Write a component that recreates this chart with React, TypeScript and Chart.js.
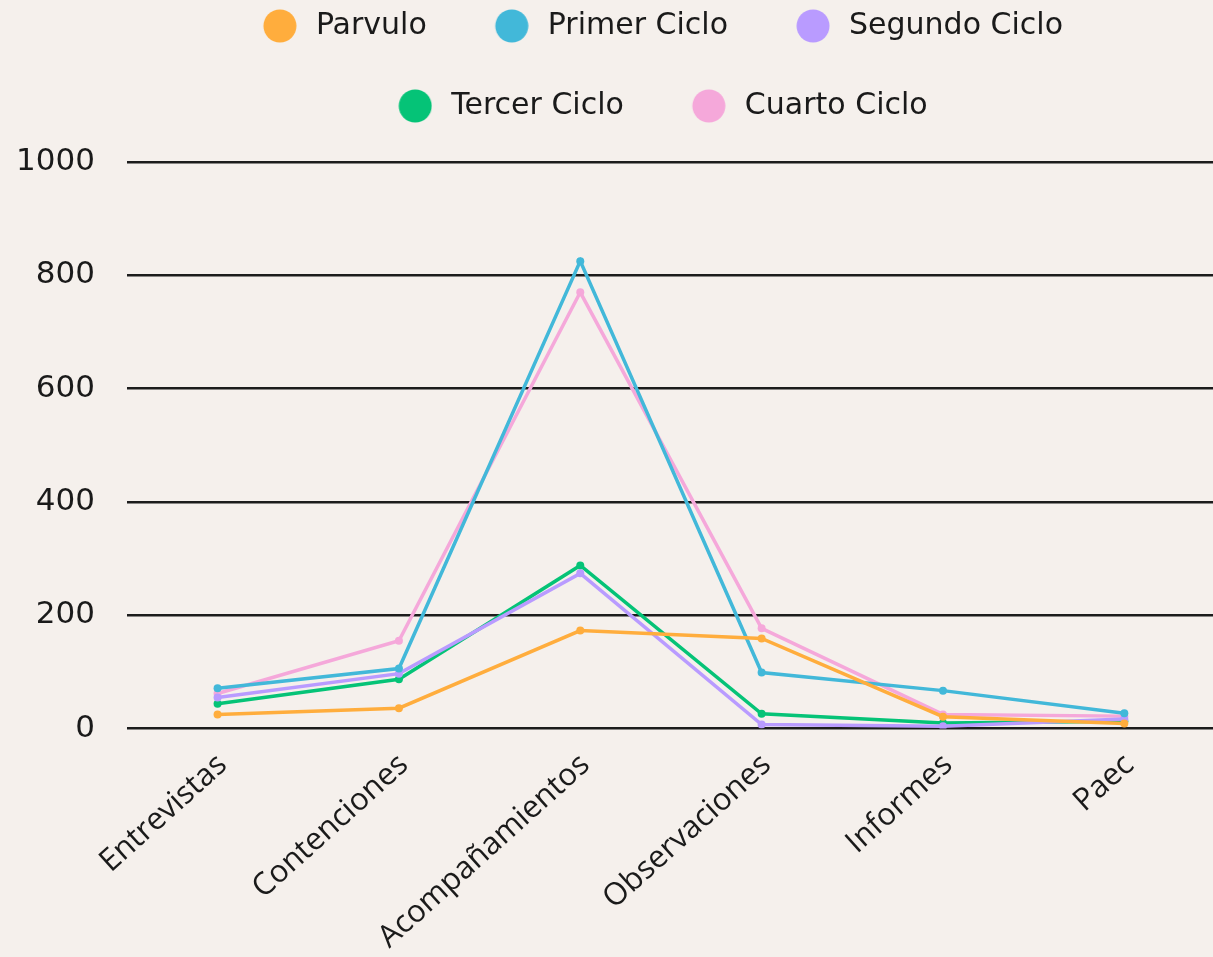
import React, { useEffect, useRef } from "react";
import { Chart, registerables } from "chart.js";

Chart.register(...registerables);

const categories = ["Entrevistas", "Contenciones", "Acompañamientos", "Observaciones", "Informes", "Paec"];
const parvulo = [25, 36, 173, 159, 21, 9];
const primerCiclo = [71, 106, 825, 99, 67, 27];
const segundoCiclo = [55, 97, 274, 7, 4, 17];
const tercerCiclo = [44, 87, 288, 26, 10, 13];
const cuartoCiclo = [62, 155, 770, 177, 25, 22];
const yTicks = [0, 200, 400, 600, 800, 1000];

const seriesNames = ["Parvulo", "Primer Ciclo", "Segundo Ciclo", "Tercer Ciclo", "Cuarto Ciclo"];
const seriesData = [parvulo, primerCiclo, segundoCiclo, tercerCiclo, cuartoCiclo];
const seriesColors = ["#ffad3d", "#42b8d9", "#b99bff", "#05c377", "#f5a8da"];

function makeIcon(color: string) {
  const c = document.createElement("canvas");
  c.width = 48;
  c.height = 34;
  const ctx = c.getContext("2d")!;
  ctx.fillStyle = color;
  ctx.beginPath();
  ctx.arc(31, 17, 16.5, 0, Math.PI * 2);
  ctx.fill();
  return c;
}

const legendSpacing = {
  id: "legendSpacing",
  beforeLayout(chart: any) {
    const lg = chart.legend;
    if (lg && !lg._patchedFit) {
      const orig = lg.fit;
      lg.fit = function () {
        orig.call(this);
        this.height += 31;
      };
      lg._patchedFit = true;
    }
  },
  afterLayout(chart: any) {
    const lg = chart.legend;
    if (lg) {
      lg.left -= 17;
      lg.right -= 17;
    }
  },
};

export default function App() {
  const ref = useRef<HTMLCanvasElement | null>(null);
  useEffect(() => {
    document.body.style.margin = "0";
    document.body.style.background = "#f5f0ec";
    document.body.style.overflow = "hidden";
    if (!ref.current) return;
    const icons = seriesColors.map(makeIcon);
    const chart = new Chart(ref.current, {
      type: "line",
      data: {
        labels: categories,
        datasets: seriesNames.map((name, i) => ({
          label: name,
          data: seriesData[i],
          borderColor: seriesColors[i],
          backgroundColor: seriesColors[i],
          borderWidth: 3.5,
          pointRadius: 4,
          pointBorderWidth: 0,
          tension: 0,
        })),
      },
      plugins: [legendSpacing],
      options: {
        animation: false,
        responsive: true,
        maintainAspectRatio: false,
        layout: { padding: { left: -16, right: 0, top: -39, bottom: -9 } },
        plugins: {
          tooltip: { enabled: false },
          legend: {
            position: "top",
            fullSize: false,
            labels: {
              usePointStyle: true,
              pointStyleWidth: 56,
              color: "#1a1a1a",
              padding: 50,
              font: { family: "DejaVu Sans", size: 30 },
              generateLabels: (ch: any) =>
                Chart.defaults.plugins.legend.labels
                  .generateLabels(ch)
                  .map((l: any, i: number) => ({ ...l, pointStyle: icons[i] })),
            },
          },
        },
        scales: {
          x: {
            offset: true,
            afterFit: (axis: any) => {
              axis.paddingRight = 0;
            },
            grid: { display: false },
            border: { display: false },
            ticks: {
              color: "#1a1a1a",
              minRotation: 42,
              maxRotation: 42,
              padding: 10,
              labelOffset: 5,
              font: { family: "Open Sans", size: 31 },
            },
          },
          y: {
            min: 0,
            max: 1000,
            afterBuildTicks: (axis: any) => {
              axis.ticks = yTicks.map((v) => ({ value: v }));
            },
            grid: { color: "#1c1c1c", lineWidth: 2.5, drawTicks: false },
            border: { display: false },
            ticks: {
              color: "#1a1a1a",
              padding: 32,
              font: { family: "DejaVu Sans", size: 31 },
              callback: (v: any) => String(v),
            },
          },
        },
      },
    });
    return () => chart.destroy();
  }, []);
  return (
    <div style={{ width: 1213, height: 957, overflow: "hidden", background: "#f5f0ec" }}>
      <div style={{ width: 1219, height: 957 }}>
        <canvas ref={ref} />
      </div>
    </div>
  );
}
